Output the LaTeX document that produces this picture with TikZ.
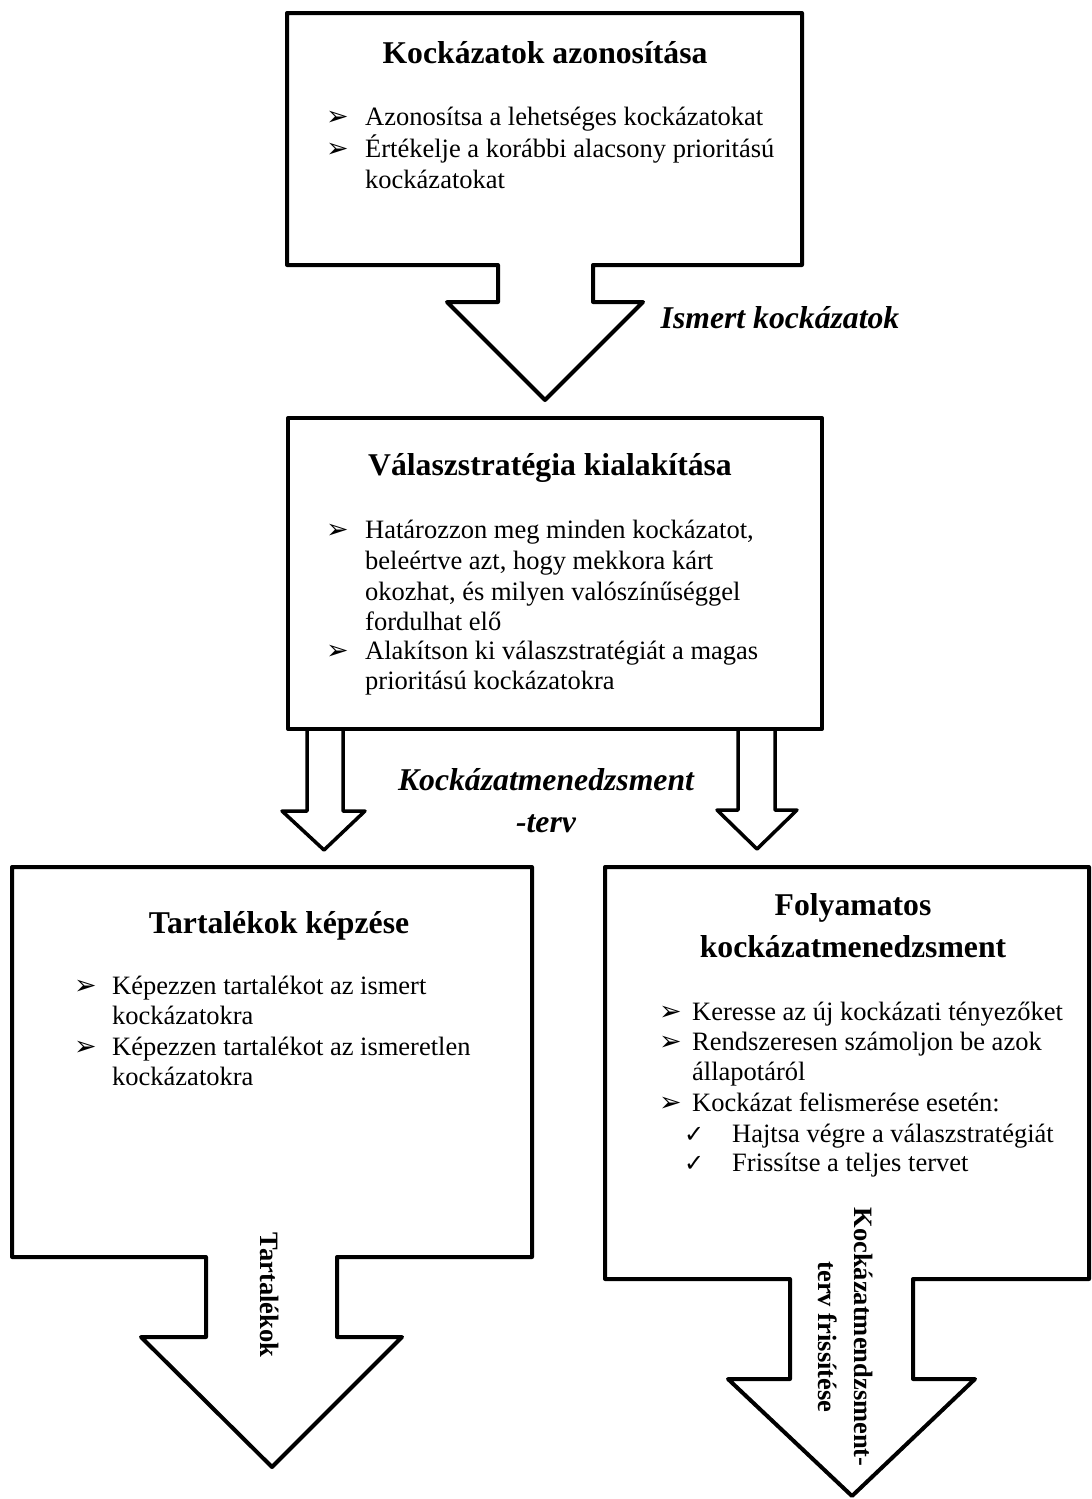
\documentclass[tikz,border=0pt]{standalone}
\usepackage{fontspec}
\setmainfont{Liberation Serif}
\newfontfamily\symfont{DejaVu Sans}
\begin{document}
\begin{tikzpicture}[x=1pt,y=-1pt,
  outline/.style={draw=black, line width=4pt, line join=round, fill=white},
  thinarrow/.style={draw=black, line width=3.5pt, line join=round, fill=white},
  ttl/.style={font=\bfseries\fontsize{31.7}{38}\selectfont, inner sep=0pt, align=center},
  body/.style={font=\fontsize{26.5}{31}\selectfont, inner sep=0pt, anchor=base west},
  bul/.style={font=\symfont\fontsize{27}{30}\selectfont, inner sep=0pt, anchor=base west},
  tick/.style={font=\symfont\fontsize{24}{28}\selectfont, inner sep=0pt, anchor=base west},
  flowlbl/.style={font=\bfseries\itshape\fontsize{31.7}{42}\selectfont, inner sep=0pt, align=center},
  vlbl/.style={font=\bfseries\fontsize{26.5}{36}\selectfont, inner sep=0pt, align=center, rotate=-90}
]
\useasboundingbox (0,0) rectangle (1092,1499);
\fill[white] (0,0) rectangle (1092,1499);

% --- block 1 with its outgoing arrow
\draw[outline] (287,13) -- (802,13) -- (802,265) -- (593,265) -- (593,302)
  -- (643,302) -- (545,400) -- (447,302) -- (498,302) -- (498,265)
  -- (287,265) -- cycle;
\node[ttl, anchor=base] (t1) at (545,63) {Kockázatok azonosítása};
\node[bul] (m11) at (326,125) {➢};
\node[body] (b11) at (365,125) {Azonosítsa a lehetséges kockázatokat};
\node[bul] (m12) at (326,157) {➢};
\node[body] (b12) at (365,157) {Értékelje a korábbi alacsony prioritású};
\node[body] (b13) at (365,188) {kockázatokat};

\node[flowlbl, anchor=base] (f1) at (780,328) {Ismert kockázatok};

% --- block 2 and its two outgoing arrows
\draw[thinarrow] (307,729) -- (307,811) -- (282,811) -- (324,850) -- (365,811)
  -- (343,811) -- (343,729);
\draw[thinarrow] (738,729) -- (738,810) -- (717,810) -- (757,849) -- (797,810)
  -- (775,810) -- (775,729);
\draw[outline] (288,418) rectangle (822,729);
\node[ttl, anchor=base] (t2) at (550,475) {Válaszstratégia kialakítása};
\node[bul] (m21) at (326,538) {➢};
\node[body] (b21) at (365,538) {Határozzon meg minden kockázatot,};
\node[body] (b22) at (365,569) {beleértve azt, hogy mekkora kárt};
\node[body] (b23) at (365,600) {okozhat, és milyen valószínűséggel};
\node[body] (b24) at (365,630) {fordulhat elő};
\node[bul] (m25) at (326,659) {➢};
\node[body] (b25) at (365,659) {Alakítson ki válaszstratégiát a magas};
\node[body] (b26) at (365,689) {prioritású kockázatokra};

\node[flowlbl] (f2) at (546,801) {Kockázatmenedzsment\\-terv};

% --- block 3 with its outgoing arrow
\draw[outline] (12,867) -- (532,867) -- (532,1257) -- (337,1257) -- (337,1337)
  -- (402,1337) -- (272,1467) -- (141,1337) -- (206,1337) -- (206,1257)
  -- (12,1257) -- cycle;
\node[ttl, anchor=base] (t3) at (279,933) {Tartalékok képzése};
\node[bul] (m31) at (74,994) {➢};
\node[body] (b31) at (112,994) {Képezzen tartalékot az ismert};
\node[body] (b32) at (112,1024) {kockázatokra};
\node[bul] (m33) at (74,1055) {➢};
\node[body] (b33) at (112,1055) {Képezzen tartalékot az ismeretlen};
\node[body] (b34) at (112,1085) {kockázatokra};
\node[vlbl] (v3) at (270,1295) {Tartalékok};

% --- block 4 with its outgoing arrow
\draw[outline] (605,867) -- (1089,867) -- (1089,1279) -- (913,1279) -- (913,1379)
  -- (975,1379) -- (852,1496) -- (728,1379) -- (790,1379) -- (790,1279)
  -- (605,1279) -- cycle;
\node[ttl, anchor=base] (t4a) at (853,915) {Folyamatos};
\node[ttl, anchor=base] (t4b) at (853,957) {kockázatmenedzsment};
\node[bul] (m41) at (659,1020) {➢};
\node[body] (b41) at (692,1020) {Keresse az új kockázati tényezőket};
\node[bul] (m42) at (659,1050) {➢};
\node[body] (b42) at (692,1050) {Rendszeresen számoljon be azok};
\node[body] (b43) at (692,1080) {állapotáról};
\node[bul] (m44) at (659,1111) {➢};
\node[body] (b44) at (692,1111) {Kockázat felismerése esetén:};
\node[tick] (c45) at (684,1142) {✓};
\node[body] (b45) at (732,1142) {Hajtsa végre a válaszstratégiát};
\node[tick] (c46) at (684,1171) {✓};
\node[body] (b46) at (732,1171) {Frissítse a teljes tervet};
\node[vlbl] (v4) at (846,1337) {Kockázatmendzsment-\\terv frissítése};
\end{tikzpicture}
\end{document}
